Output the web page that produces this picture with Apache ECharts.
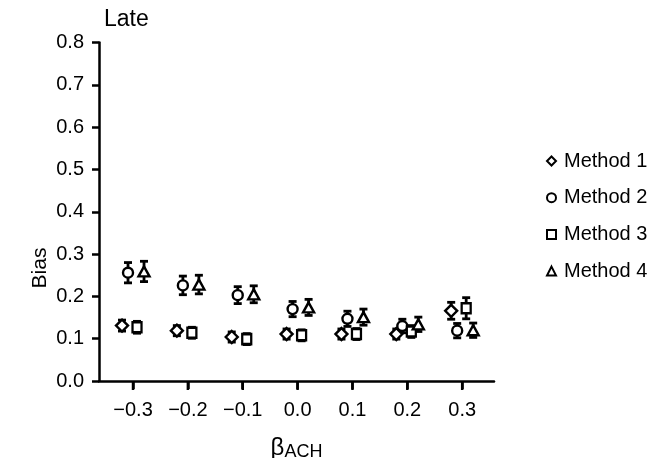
<!DOCTYPE html>
<html>
<head>
<meta charset="utf-8">
<script src="https://cdn.jsdelivr.net/npm/echarts@6/dist/echarts.min.js"></script>
<style>html,body{margin:0;padding:0;background:#fff}#c{width:667px;height:458px}</style>
</head>
<body>
<div id="c"></div>
<script>
const betas = [-0.3, -0.2, -0.1, 0.0, 0.1, 0.2, 0.3];
const yTicks = [0, 0.1, 0.2, 0.3, 0.4, 0.5, 0.6, 0.7, 0.8];
const methodNames = ['Method 1', 'Method 2', 'Method 3', 'Method 4'];
const m1 = [0.131, 0.119, 0.104, 0.111, 0.111, 0.111, 0.166];
const m2 = [0.256, 0.226, 0.203, 0.170, 0.147, 0.130, 0.119];
const m3 = [0.127, 0.114, 0.099, 0.108, 0.111, 0.117, 0.172];
const m4 = [0.259, 0.228, 0.205, 0.174, 0.151, 0.134, 0.120];
const e1 = [0.013, 0.012, 0.012, 0.012, 0.012, 0.012, 0.020];
const e2 = [0.024, 0.022, 0.020, 0.018, 0.018, 0.016, 0.017];
const e3 = [0.014, 0.013, 0.013, 0.013, 0.013, 0.014, 0.025];
const e4 = [0.024, 0.022, 0.020, 0.019, 0.019, 0.017, 0.017];

const values = [m1, m2, m3, m4];
const errors = [e1, e2, e3, e4];
const symbols = ['diamond', 'circle', 'rect', 'triangle'];
const symSizes = [[12, 12], [10, 10], [9, 10], [11, 10]];
const pxOffsets = [-11, -5, 4, 11];
const FONT = 'Liberation Sans, Arial, Helvetica, sans-serif';

const chart = echarts.init(document.getElementById('c'), null, {renderer: 'canvas'});
const series = [];
// x-axis ticks at the beta positions (placed through the axis scale)
series.push({
  type: 'scatter',
  name: 'xticks',
  silent: true,
  clip: false,
  z: 5,
  symbol: 'rect',
  symbolSize: [2.5, 8],
  symbolOffset: [0, 5],
  itemStyle: {color: '#000', opacity: 1},
  data: betas.map(b => [b, 0])
});
values.forEach((vals, k) => {
  series.push({
    type: 'custom',
    name: methodNames[k] + ' err',
    z: 2,
    silent: true,
    data: betas.map((b, i) => [b, vals[i], errors[k][i]]),
    renderItem: function (params, api) {
      const x = api.value(0), y = api.value(1), e = api.value(2);
      const top = api.coord([x, y + e]);
      const bot = api.coord([x, y - e]);
      const cx = top[0] + pxOffsets[k];
      const cap = 4;
      const st = {stroke: '#000', lineWidth: 2.8};
      return {
        type: 'group',
        children: [
          {type: 'line', shape: {x1: cx, y1: top[1], x2: cx, y2: bot[1]}, style: st},
          {type: 'line', shape: {x1: cx - cap, y1: top[1], x2: cx + cap, y2: top[1]}, style: st},
          {type: 'line', shape: {x1: cx - cap, y1: bot[1], x2: cx + cap, y2: bot[1]}, style: st}
        ]
      };
    }
  });
});
values.forEach((vals, k) => {
  series.push({
    type: 'scatter',
    name: methodNames[k],
    z: 3,
    symbol: symbols[k],
    symbolSize: symSizes[k],
    symbolOffset: [pxOffsets[k], 0],
    itemStyle: {color: '#fff', borderColor: '#000', borderWidth: 2.4, opacity: 1},
    data: betas.map((b, i) => [b, vals[i]])
  });
});

chart.setOption({
  animation: false,
  backgroundColor: '#fff',
  textStyle: {fontFamily: FONT, color: '#000'},
  grid: {left: 99, right: 173, top: 42.6, bottom: 77, containLabel: false, outerBoundsMode: 'none'},
  legend: {
    data: methodNames,
    orient: 'vertical',
    left: 541,
    top: 146,
    itemWidth: 9,
    itemHeight: 9,
    itemGap: 16.7,
    itemStyle: {color: '#fff', borderColor: '#000', borderWidth: 2},
    textStyle: {fontFamily: FONT, fontSize: 20, color: '#000', lineHeight: 20, padding: [0, 0, 0, 3]},
    selectedMode: false
  },
  xAxis: {
    type: 'value',
    min: -0.362,
    max: 0.358,
    name: '{b|β}{s|ACH}',
    nameLocation: 'middle',
    nameGap: 54,
    nameTextStyle: {
      rich: {
        b: {fontFamily: FONT, fontSize: 24, color: '#000'},
        s: {fontFamily: FONT, fontSize: 18, color: '#000', verticalAlign: 'bottom', padding: [8, 0, 0, 0]}
      }
    },
    axisLine: {onZero: false, lineStyle: {color: '#000', width: 2.5}},
    axisTick: {show: true, customValues: betas, length: 8, lineStyle: {color: '#000', width: 2.5}},
    axisLabel: {
      customValues: betas,
      fontFamily: FONT, fontSize: 20, color: '#000', margin: 19,
      formatter: v => (v < 0 ? '\u2212' : '') + Math.abs(v).toFixed(1)
    },
    splitLine: {show: false}
  },
  yAxis: {
    type: 'value',
    min: 0,
    max: 0.8,
    interval: 0.1,
    axisLine: {show: true, onZero: false, lineStyle: {color: '#000', width: 2.5}},
    axisTick: {show: true, length: 7, lineStyle: {color: '#000', width: 2.5}},
    axisLabel: {
      fontFamily: FONT, fontSize: 20, color: '#000', margin: 15,
      formatter: v => v.toFixed(1)
    },
    splitLine: {show: false}
  },
  graphic: [
    {type: 'text', left: 104, top: 8, style: {text: 'Late', fontFamily: FONT, fontSize: 23, fill: '#000'}},
    {type: 'text', x: 40, y: 268, rotation: Math.PI / 2,
     style: {text: 'Bias', fontFamily: FONT, fontSize: 21, fill: '#000', align: 'center', verticalAlign: 'middle'}}
  ],
  series: series
});
</script>
</body>
</html>
